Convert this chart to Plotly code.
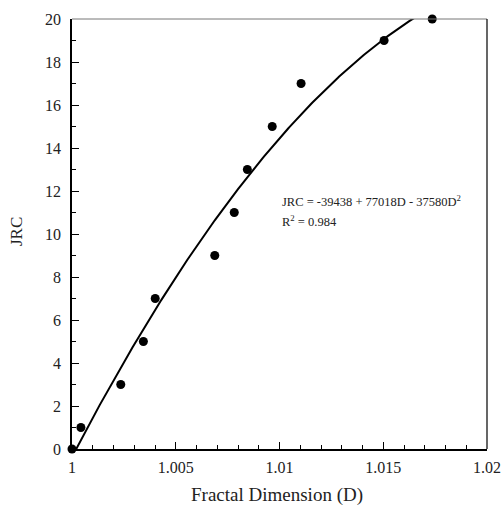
import numpy as np
import plotly.graph_objects as go

# Data
fractal_d = [1.0, 1.00043, 1.00235, 1.00344, 1.00401, 1.00688, 1.00782,
             1.00845, 1.00965, 1.01104, 1.01504, 1.01736]
jrc = [0, 1, 3, 5, 7, 9, 11, 13, 15, 17, 19, 20]

# Quadratic fit JRC = a + b*D + c*D^2 (as printed; constant with its unrounded tail)
fit_coef = [-39438.37, 77018.0, -37580.0]
eq_text = "JRC = -39438 + 77018D - 37580D<sup>2</sup>"
r2_text = "R<sup>2</sup> = 0.984"

x_tickvals = [1.0, 1.005, 1.01, 1.015, 1.02]
x_ticktext = ["1", "1.005", "1.01", "1.015", "1.02"]
y_tickvals = list(range(0, 21, 2))
x_title = "Fractal Dimension (D)"
y_title = "JRC"

d_line = np.linspace(1.0, 1.0175, 300)
jrc_line = fit_coef[0] + fit_coef[1] * d_line + fit_coef[2] * d_line ** 2

FONT = "Liberation Serif"

fig = go.Figure()
fig.add_trace(go.Scatter(x=d_line, y=jrc_line, mode="lines",
                         line=dict(color="black", width=2), hoverinfo="skip"))
fig.add_trace(go.Scatter(x=fractal_d, y=jrc, mode="markers",
                         marker=dict(color="black", size=9),
                         cliponaxis=False))

fig.update_layout(
    width=503, height=505,
    margin=dict(l=72, r=16, t=19, b=56, autoexpand=False),
    paper_bgcolor="white", plot_bgcolor="white",
    showlegend=False,
    font=dict(family=FONT, color="#222", size=16),
    xaxis=dict(range=[1.0, 1.02], tickvals=x_tickvals, ticktext=x_ticktext,
               ticks="inside", ticklen=7, tickwidth=1, tickcolor="black",
               minor=dict(dtick=0.001, ticks="inside", ticklen=4, tickcolor="black"),
               showline=True, linecolor="black", linewidth=1.5,
               showgrid=False, zeroline=False, automargin=False,
               ticklabelstandoff=3,
               tickfont=dict(family=FONT, size=16)),
    yaxis=dict(range=[0, 20], tickvals=y_tickvals,
               ticks="inside", ticklen=7, tickwidth=1, tickcolor="black",
               minor=dict(dtick=1, ticks="inside", ticklen=4, tickcolor="black"),
               showline=True, linecolor="black", linewidth=1.5,
               showgrid=False, zeroline=False, automargin=False,
               ticklabelstandoff=6,
               tickfont=dict(family=FONT, size=16)),
    shapes=[
        dict(type="line", xref="paper", yref="paper", x0=0, x1=1, y0=1, y1=1,
             line=dict(color="#777", width=1)),
        dict(type="line", xref="paper", yref="paper", x0=1, x1=1, y0=0, y1=1,
             line=dict(color="black", width=1.2)),
    ],
    annotations=[
        dict(x=1.01002, y=11.55, xref="x", yref="y", text=eq_text, showarrow=False,
             xanchor="left", yanchor="middle", font=dict(family=FONT, size=12.5, color="#222")),
        dict(x=1.01002, y=10.62, xref="x", yref="y", text=r2_text, showarrow=False,
             xanchor="left", yanchor="middle", font=dict(family=FONT, size=12.5, color="#222")),
        dict(x=0.494, y=-0.107, xref="paper", yref="paper", text=x_title, showarrow=False,
             xanchor="center", yanchor="middle", font=dict(family=FONT, size=19, color="#222")),
        dict(x=-0.1325, y=0.5047, xref="paper", yref="paper", text=y_title, showarrow=False,
             textangle=-90, xanchor="center", yanchor="middle",
             font=dict(family=FONT, size=17, color="#222")),
    ],
)

fig.write_html("out.html", config={"displayModeBar": False},
               post_script="document.body.style.margin='0';")
